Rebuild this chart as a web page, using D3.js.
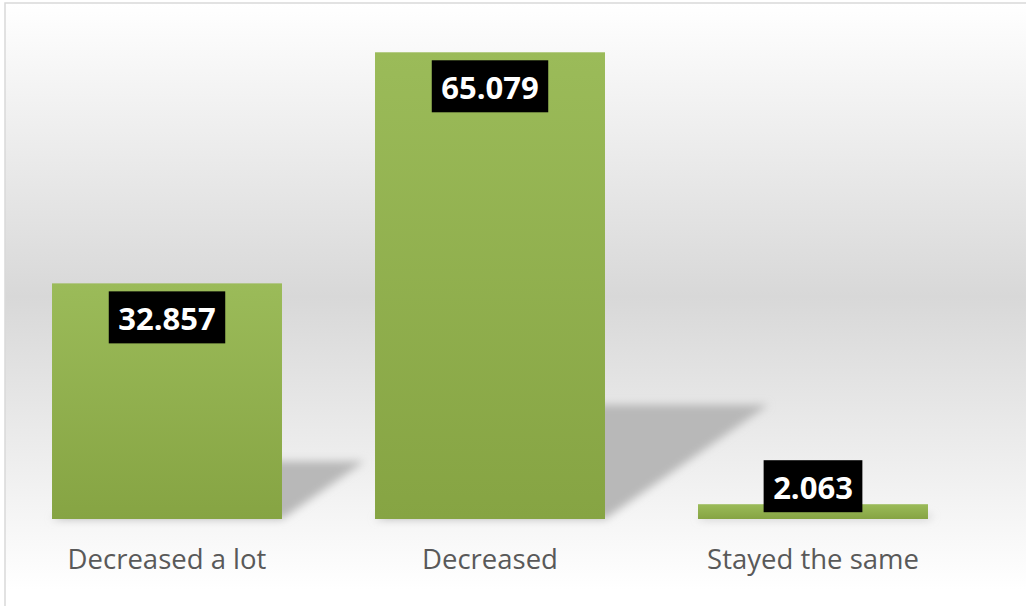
<!DOCTYPE html>
<html>
<head>
<meta charset="utf-8">
<script src="https://cdn.jsdelivr.net/npm/d3@7"></script>
<style>
  body { margin: 0; background: #fff; }
  svg { display: block; }
</style>
</head>
<body>
<div id="chart-area"></div>
<script>
// values
var categories = ["Decreased a lot", "Decreased", "Stayed the same"];
var values = [32.857, 65.079, 2.063];
var labels = ["32.857", "65.079", "2.063"];

var width = 1026, height = 606;

var svg = d3.select("#chart-area")
    .append("svg")
    .attr("width", width)
    .attr("height", height);

var defs = svg.append("defs");

var bg = defs.append("linearGradient")
    .attr("id", "bg")
    .attr("gradientUnits", "userSpaceOnUse")
    .attr("x1", 0).attr("y1", 3)
    .attr("x2", 0).attr("y2", 590);
bg.append("stop").attr("offset", 0).attr("stop-color", "#ffffff");
bg.append("stop").attr("offset", 0.5).attr("stop-color", "#d8d8d8");
bg.append("stop").attr("offset", 1).attr("stop-color", "#ffffff");

var barGrad = defs.append("linearGradient")
    .attr("id", "barGrad")
    .attr("x1", 0).attr("y1", 0)
    .attr("x2", 0).attr("y2", 1);
barGrad.append("stop").attr("offset", 0).attr("stop-color", "#9bbb59");
barGrad.append("stop").attr("offset", 1).attr("stop-color", "#86a443");

defs.append("filter")
    .attr("id", "blur")
    .attr("x", "-20%").attr("y", "-20%")
    .attr("width", "140%").attr("height", "140%")
  .append("feGaussianBlur")
    .attr("stdDeviation", 4);

// chart frame
svg.append("rect")
    .attr("x", 5).attr("y", 3)
    .attr("width", 1040).attr("height", 640)
    .attr("fill", "url(#bg)")
    .attr("stroke", "#d9d9d9")
    .attr("stroke-width", 1.5);

var x = d3.scaleBand()
    .domain(categories)
    .range([5.5, 974.5])
    .paddingInner(0.288)
    .paddingOuter(0.144);

var y = d3.scaleLinear()
    .domain([0, 70])
    .range([519, 17]);

var data = categories.map(function(c, i) {
  return { cat: c, value: values[i], label: labels[i] };
});

// perspective shadows
svg.append("g")
    .attr("filter", "url(#blur)")
  .selectAll("polygon")
  .data(data)
  .enter().append("polygon")
    .attr("fill", "#b8b8b8")
    .attr("points", function(d) {
      var x0 = x(d.cat), x1 = x0 + x.bandwidth(), yb = y(0), h = yb - y(d.value);
      var dx = 0.35 * h, dy = 0.245 * h;
      return [[x0, yb], [x1, yb], [x1 + dx, yb - dy], [x0 + dx, yb - dy]].join(" ");
    });

// bars
svg.append("g")
  .selectAll("rect")
  .data(data)
  .enter().append("rect")
    .attr("x", function(d) { return x(d.cat); })
    .attr("y", function(d) { return y(d.value); })
    .attr("width", x.bandwidth())
    .attr("height", function(d) { return y(0) - y(d.value); })
    .attr("fill", "url(#barGrad)");

// value labels
var boxH = 52;
var lab = svg.append("g")
  .selectAll("g")
  .data(data)
  .enter().append("g");

lab.each(function(d) {
  var g = d3.select(this);
  var cx = x(d.cat) + x.bandwidth() / 2;
  var top = y(d.value) + 8;
  if (y(0) - y(d.value) < boxH + 16) top = y(d.value) + 8 - boxH;
  var rect = g.append("rect").attr("fill", "#000");
  var t = g.append("text")
      .attr("x", cx)
      .attr("y", top + 39)
      .attr("text-anchor", "middle")
      .attr("font-family", "'Open Sans', sans-serif")
      .attr("font-weight", "bold")
      .attr("font-size", "31px")
      .attr("fill", "#fff")
      .text(d.label);
  var w = t.node().getComputedTextLength() + 19;
  rect.attr("x", cx - w / 2).attr("y", top)
      .attr("width", w).attr("height", boxH);
});

// category axis labels
svg.append("g")
  .selectAll("text")
  .data(categories)
  .enter().append("text")
    .attr("x", function(d) { return x(d) + x.bandwidth() / 2; })
    .attr("y", 569)
    .attr("text-anchor", "middle")
    .attr("font-family", "'Open Sans', sans-serif")
    .attr("font-size", "27.5px")
    .attr("fill", "#595959")
    .text(function(d) { return d; });
</script>
</body>
</html>
